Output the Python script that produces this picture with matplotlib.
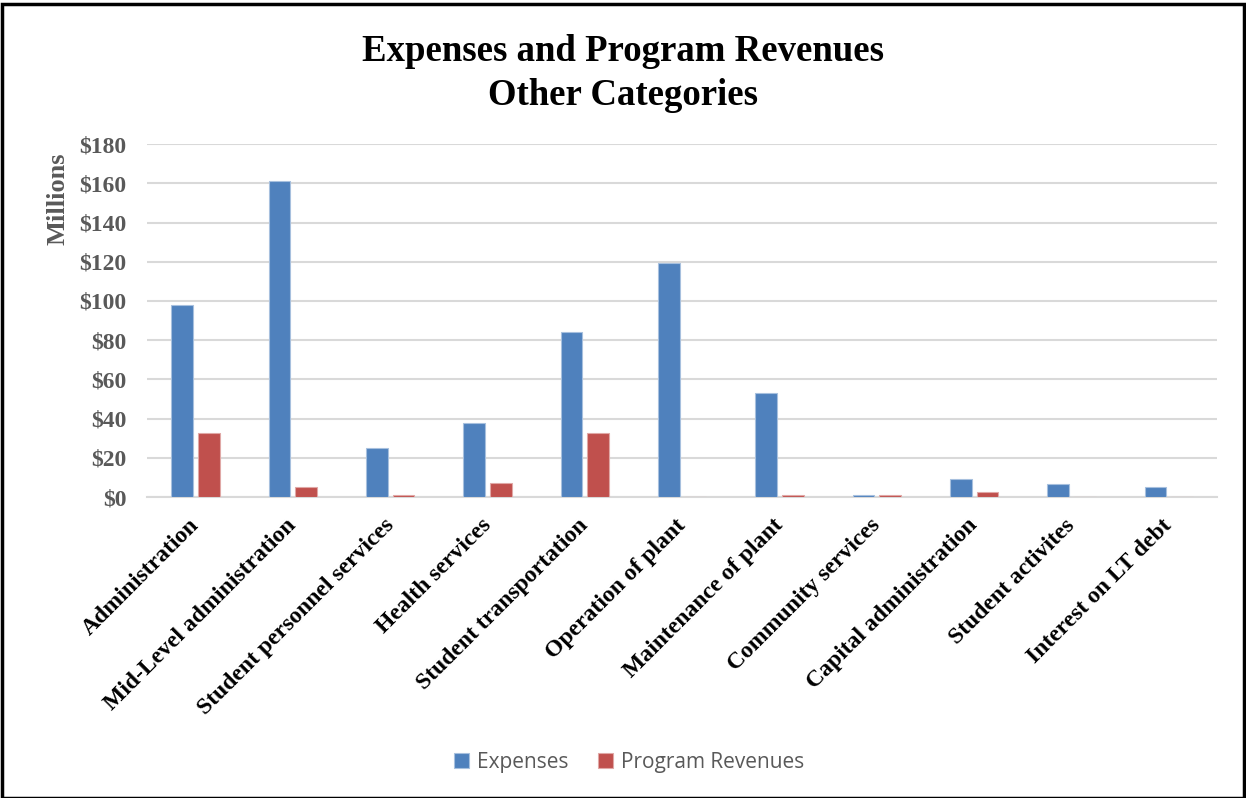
import matplotlib.pyplot as plt
import matplotlib.transforms as mtransforms
import numpy as np
from matplotlib.patches import Rectangle

# data (millions of dollars)
categories = ['Administration', 'Mid-Level administration', 'Student personnel services',
              'Health services', 'Student transportation', 'Operation of plant',
              'Maintenance of plant', 'Community services', 'Capital administration',
              'Student activites', 'Interest on LT debt']
expenses = [98, 161, 25, 38, 84, 119.5, 53, 1, 9, 6.5, 5.3]
revenues = [32.5, 5, 1.2, 7.2, 32.5, 0, 1.2, 1, 2.7, 0, 0]
yticks = [0, 20, 40, 60, 80, 100, 120, 140, 160, 180]

serif = 'Liberation Serif'
fig = plt.figure(figsize=(12.46, 7.98), dpi=100)
ax = fig.add_axes([0.118, 0.377, 0.859, 0.4425])

x = np.arange(len(categories))
w = 0.223
off = 0.137
ax.bar(x - off, expenses, w, color='#4F81BD', edgecolor='#A7C0DE', linewidth=0.8, label='Expenses', zorder=3)
ax.bar(x + off, revenues, w, color='#C0504D', edgecolor='#E0A8A6', linewidth=0.8, label='Program Revenues', zorder=3)

ax.set_xlim(-0.5, len(categories) - 0.5)
ax.set_ylim(0, 180)
ax.tick_params(axis='y', length=0, pad=15)
ax.tick_params(axis='x', length=0, pad=12)
ax.set_yticks(yticks)
ax.set_yticklabels(['$%d' % v for v in yticks], fontfamily=serif, fontweight='bold',
                   fontsize=17, color='#595959')
ax.set_xticks(x)
ax.set_xticklabels(categories, rotation=45, ha='right', rotation_mode='anchor',
                   fontfamily=serif, fontweight='bold', fontsize=17, color='black')
# nudge the slanted labels a bit left like the original
shift = mtransforms.ScaledTranslation(-7 / 100, -1 / 100, fig.dpi_scale_trans)
for lbl in ax.get_xticklabels():
    lbl.set_transform(lbl.get_transform() + shift)
ax.grid(axis='y', color='#D9D9D9', linewidth=1.5, zorder=0)
for s in ['top', 'right', 'left']:
    ax.spines[s].set_visible(False)
ax.spines['bottom'].set_color('#D9D9D9')
ax.spines['bottom'].set_linewidth(1.5)

ax.set_ylabel('Millions', fontfamily=serif, fontweight='bold', fontsize=19, color='#595959')
ax.yaxis.set_label_coords(-0.072, 0.845)

fig.text(0.5, 0.958, 'Expenses and Program Revenues\nOther Categories', ha='center', va='top',
         fontfamily=serif, fontweight='bold', fontsize=26.5, linespacing=1.35)

fig.legend(loc='center', bbox_to_anchor=(0.505, 0.045), ncol=2, frameon=False,
           handlelength=0.7, handleheight=0.7, handletextpad=0.4, columnspacing=1.4,
           prop={'family': 'Open Sans', 'size': 15}, labelcolor='#595959')

fig.patches.append(Rectangle((0.002, 0.0), 0.996, 0.995, transform=fig.transFigure,
                             fill=False, edgecolor='black', linewidth=2.5))

fig.savefig('out.png', dpi=100)
